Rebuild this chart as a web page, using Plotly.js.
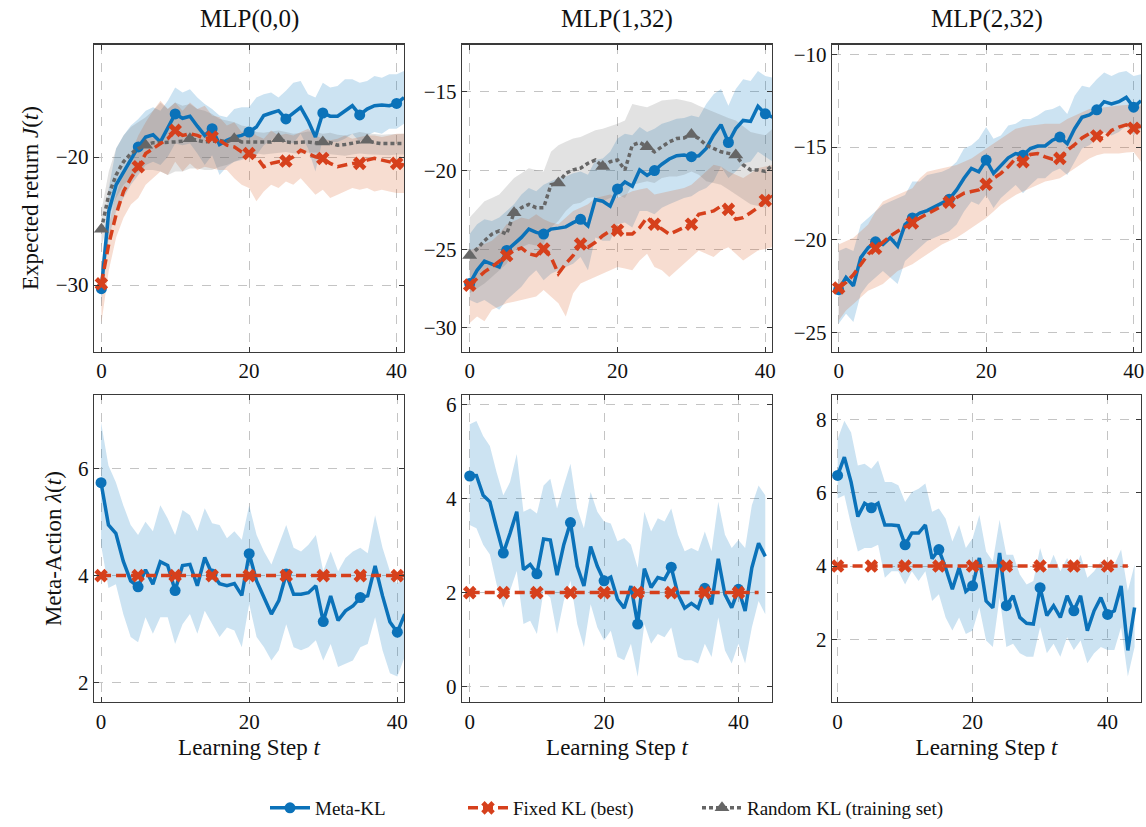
<!DOCTYPE html>
<html>
<head>
<meta charset="utf-8">
<script src="https://cdn.plot.ly/plotly-3.0.1.min.js"></script>
<style>html,body{margin:0;padding:0;background:#fff;}#chart{width:1146px;height:827px;}</style>
</head>
<body>
<div id="chart"></div>
<script>
// ---------- data ----------
const panelTitles = ["MLP(0,0)", "MLP(1,32)", "MLP(2,32)"];
const seriesNames = ["Meta-KL", "Fixed KL (best)", "Random KL (training set)"];
const stepsTop = [0,1,2,3,4,5,6,7,8,9,10,11,12,13,14,15,16,17,18,19,20,21,22,23,24,25,26,27,28,29,30,31,32,33,34,35,36,37,38,39,40,41];
const stepsBot = [0,1,2,3,4,5,6,7,8,9,10,11,12,13,14,15,16,17,18,19,20,21,22,23,24,25,26,27,28,29,30,31,32,33,34,35,36,37,38,39,40,41,42,43,44];

// MLP(0,0) expected return
const metaJ00   = [-30.28,-24.23,-22.16,-21.13,-20.10,-19.20,-18.43,-18.25,-18.81,-17.65,-16.62,-16.96,-16.80,-17.58,-18.30,-17.78,-19.02,-18.69,-18.43,-18.30,-18.04,-17.65,-16.75,-16.55,-16.37,-17.01,-16.55,-16.11,-17.14,-18.43,-16.55,-16.80,-16.80,-16.37,-15.98,-16.70,-16.24,-15.98,-15.93,-15.98,-15.80,-15.34];
const metaJ00Lo = [-31.44,-26.29,-24.23,-23.20,-22.16,-21.39,-20.62,-20.36,-20.62,-19.97,-18.94,-19.07,-18.94,-19.72,-20.62,-19.85,-21.39,-20.75,-20.36,-20.23,-19.97,-19.85,-19.07,-18.69,-18.17,-18.81,-18.94,-18.17,-19.33,-21.13,-18.56,-18.81,-18.81,-18.56,-18.17,-18.81,-18.30,-18.04,-18.17,-17.78,-17.78,-17.40];
const metaJ00Hi = [-28.87,-22.42,-19.33,-18.30,-17.53,-17.01,-16.37,-16.11,-16.37,-15.59,-14.56,-14.95,-14.69,-15.34,-15.85,-16.24,-16.75,-16.88,-16.24,-16.11,-16.11,-15.34,-15.08,-14.95,-15.34,-14.82,-14.18,-14.05,-15.08,-15.34,-14.18,-14.56,-14.43,-13.92,-13.92,-14.18,-14.05,-13.66,-13.79,-13.53,-13.53,-13.27];
const fixedJ00   = [-29.90,-26.80,-24.48,-22.68,-21.65,-20.75,-19.72,-19.33,-18.94,-18.56,-17.91,-18.30,-18.17,-18.30,-18.56,-18.43,-18.69,-19.07,-19.20,-19.59,-19.72,-19.97,-20.75,-20.49,-20.36,-20.31,-19.97,-19.46,-19.72,-19.97,-20.10,-20.49,-20.75,-20.62,-20.49,-20.49,-20.23,-20.10,-20.23,-20.36,-20.49,-20.62];
const fixedJ00Lo = [-32.99,-28.87,-26.29,-24.74,-23.71,-23.20,-22.16,-21.65,-21.13,-21.39,-20.36,-21.13,-20.49,-21.01,-20.75,-20.88,-21.01,-21.01,-21.65,-22.16,-22.42,-23.45,-22.68,-22.16,-22.42,-21.91,-22.16,-21.65,-22.29,-22.94,-22.55,-23.20,-22.94,-22.68,-22.42,-22.55,-22.42,-22.68,-22.55,-22.68,-22.81,-22.81];
const fixedJ00Hi = [-28.35,-25.26,-22.94,-21.13,-19.72,-18.30,-17.27,-16.37,-15.59,-16.24,-15.72,-16.37,-15.72,-16.24,-15.98,-16.75,-16.88,-17.53,-17.27,-18.04,-17.78,-18.30,-18.56,-17.91,-18.30,-18.17,-18.30,-18.04,-17.78,-18.30,-18.56,-18.69,-18.56,-18.30,-18.56,-18.43,-18.30,-18.30,-18.43,-18.30,-18.17,-18.17];
const randJ00   = [-25.64,-22.94,-21.39,-20.36,-19.72,-19.33,-19.07,-18.87,-18.87,-18.81,-18.81,-18.76,-18.56,-18.69,-18.81,-18.76,-18.69,-18.81,-18.56,-18.81,-18.81,-18.81,-18.87,-18.81,-18.56,-18.81,-18.87,-18.81,-18.81,-18.89,-18.81,-18.87,-19.07,-19.02,-18.94,-18.81,-18.69,-18.87,-18.94,-18.94,-18.94,-18.94];
const randJ00Lo = [-27.06,-24.74,-23.20,-22.16,-21.65,-21.13,-21.01,-21.01,-21.13,-21.39,-21.13,-21.13,-20.88,-20.88,-21.01,-21.01,-20.75,-20.62,-20.36,-20.10,-19.97,-19.72,-19.79,-19.72,-19.64,-19.59,-19.69,-19.74,-19.66,-19.64,-19.72,-19.79,-19.85,-19.90,-19.79,-19.72,-19.77,-19.79,-19.85,-19.85,-19.79,-19.79];
const randJ00Hi = [-24.23,-21.13,-19.33,-18.30,-17.65,-17.27,-16.88,-16.37,-15.72,-16.24,-15.72,-15.98,-15.85,-16.24,-16.37,-16.62,-17.01,-17.14,-17.27,-17.53,-17.65,-18.04,-18.09,-17.99,-17.91,-18.04,-18.17,-18.12,-17.99,-18.04,-18.17,-18.09,-18.25,-18.30,-18.17,-18.04,-18.14,-18.20,-18.25,-18.22,-18.17,-18.17];

// MLP(1,32) expected return
const metaJ132   = [-27.18,-26.34,-25.75,-25.92,-26.13,-25.08,-24.67,-24.25,-23.72,-23.93,-24.04,-23.72,-23.66,-23.58,-23.31,-23.10,-23.51,-21.84,-21.95,-22.26,-21.17,-20.73,-21.00,-19.96,-20.31,-20.00,-19.60,-19.27,-19.06,-19.02,-19.12,-19.06,-18.60,-17.76,-17.09,-18.22,-17.34,-16.82,-16.88,-15.92,-16.40,-16.61];
const metaJ132Lo = [-28.22,-28.43,-28.22,-28.54,-28.85,-28.22,-27.80,-27.38,-26.76,-26.34,-26.97,-26.55,-26.34,-26.13,-25.92,-25.50,-26.34,-24.25,-24.46,-24.46,-23.41,-23.31,-23.62,-22.57,-22.57,-22.78,-22.36,-22.15,-21.95,-21.74,-21.63,-21.32,-21.11,-20.69,-19.75,-20.48,-20.06,-19.54,-19.44,-18.81,-19.12,-19.44];
const metaJ132Hi = [-24.04,-23.41,-23.10,-23.20,-22.99,-22.57,-22.15,-21.53,-21.11,-21.32,-20.90,-20.69,-20.48,-20.38,-20.17,-20.06,-20.27,-19.33,-19.23,-18.81,-17.97,-17.66,-17.76,-17.24,-17.55,-17.34,-17.03,-16.88,-16.72,-16.67,-16.51,-16.61,-15.77,-15.15,-14.83,-15.88,-14.83,-14.21,-14.31,-13.68,-14.00,-14.10];
const fixedJ132   = [-27.28,-26.86,-26.44,-26.13,-25.75,-25.40,-25.08,-24.92,-25.29,-25.40,-24.98,-25.50,-26.55,-25.92,-25.40,-24.67,-24.87,-24.56,-24.14,-23.83,-23.79,-24.04,-24.04,-23.62,-22.99,-23.41,-23.72,-24.04,-23.83,-23.62,-23.41,-22.78,-22.68,-22.57,-22.26,-22.47,-23.10,-22.99,-22.68,-22.36,-21.90,-21.63];
const fixedJ132Lo = [-29.69,-29.27,-29.58,-28.85,-28.64,-28.43,-28.33,-28.22,-28.12,-28.01,-27.59,-28.01,-28.43,-29.27,-27.80,-27.18,-26.97,-26.76,-26.55,-26.34,-26.13,-26.23,-26.34,-25.71,-25.29,-26.13,-26.34,-26.76,-26.34,-25.92,-25.50,-25.08,-25.29,-25.50,-25.08,-24.87,-25.29,-25.71,-25.40,-25.08,-24.98,-24.87];
const fixedJ132Hi = [-25.08,-24.87,-24.67,-24.46,-24.04,-23.41,-23.20,-22.99,-23.10,-22.78,-23.10,-23.31,-23.41,-22.99,-22.57,-22.36,-22.15,-21.74,-21.63,-21.53,-21.74,-21.53,-21.32,-21.21,-21.11,-21.53,-21.42,-21.32,-21.21,-21.11,-20.90,-20.48,-20.06,-19.64,-19.75,-20.06,-20.27,-20.48,-20.17,-19.85,-19.75,-19.64];
const randJ132   = [-25.40,-24.98,-24.46,-24.04,-23.83,-24.04,-22.68,-22.36,-22.15,-22.36,-22.36,-20.90,-20.79,-20.17,-19.96,-19.85,-19.54,-19.33,-19.75,-19.44,-19.33,-19.96,-18.39,-18.22,-18.49,-18.81,-18.49,-18.18,-17.97,-17.93,-17.72,-17.97,-18.39,-18.60,-18.81,-18.91,-19.02,-19.64,-19.96,-19.96,-20.06,-19.64];
const randJ132Lo = [-27.80,-27.49,-27.18,-26.76,-26.34,-25.92,-25.08,-24.87,-24.67,-24.77,-24.67,-23.62,-23.20,-22.57,-22.15,-22.05,-21.74,-21.69,-21.95,-21.74,-21.53,-21.74,-20.90,-20.79,-20.69,-20.79,-20.48,-20.38,-20.38,-20.27,-20.06,-20.27,-20.69,-20.79,-20.90,-21.21,-21.53,-21.84,-22.15,-22.26,-22.36,-21.95];
const randJ132Hi = [-22.99,-22.47,-21.95,-21.74,-21.53,-21.00,-20.48,-20.17,-19.85,-19.96,-20.06,-18.81,-18.39,-18.18,-17.97,-17.87,-17.66,-17.45,-17.34,-17.18,-17.03,-16.82,-15.77,-15.88,-15.98,-15.77,-15.56,-15.50,-15.46,-15.56,-15.67,-15.88,-16.09,-16.30,-16.51,-16.67,-16.82,-17.18,-17.55,-17.66,-17.76,-17.34];

// MLP(2,32) expected return
const metaJ232   = [-22.69,-22.03,-22.48,-20.96,-20.43,-20.11,-20.25,-19.89,-20.34,-19.18,-18.82,-18.56,-18.43,-18.20,-18.02,-17.81,-17.31,-16.68,-16.15,-16.33,-15.70,-16.42,-15.97,-15.58,-15.35,-15.44,-15.08,-14.94,-14.94,-14.63,-14.46,-14.81,-14.01,-13.39,-13.26,-12.99,-12.55,-12.67,-12.55,-12.32,-12.85,-12.50];
const metaJ232Lo = [-24.53,-23.99,-24.44,-22.92,-22.39,-22.03,-21.68,-22.03,-22.39,-21.14,-20.78,-20.43,-20.07,-19.89,-19.71,-19.54,-19.18,-18.47,-17.93,-18.11,-17.58,-18.29,-17.75,-17.40,-17.04,-17.49,-17.04,-16.68,-16.68,-16.33,-16.15,-16.51,-15.79,-15.08,-14.90,-14.55,-14.19,-14.37,-14.19,-13.83,-14.37,-14.01];
const metaJ232Hi = [-20.61,-20.43,-20.61,-19.18,-18.82,-18.47,-18.11,-17.93,-17.75,-17.58,-16.86,-16.86,-16.51,-16.42,-16.33,-16.15,-15.79,-15.08,-14.90,-14.55,-13.92,-14.55,-14.37,-13.83,-13.74,-13.48,-13.48,-13.30,-13.03,-12.94,-12.76,-13.21,-12.23,-11.69,-11.78,-11.34,-10.98,-11.16,-10.98,-10.89,-11.16,-11.07];
const fixedJ232   = [-22.60,-22.30,-21.89,-21.32,-20.78,-20.46,-20.11,-19.80,-19.54,-19.32,-19.09,-18.82,-18.61,-18.38,-18.20,-17.97,-17.72,-17.49,-17.40,-17.31,-17.01,-16.68,-16.42,-16.06,-15.61,-15.79,-15.40,-15.35,-15.53,-15.65,-15.61,-15.17,-14.87,-14.51,-14.28,-14.40,-14.55,-14.10,-13.92,-13.80,-13.98,-13.87];
const fixedJ232Lo = [-24.35,-23.81,-23.46,-23.10,-22.75,-22.57,-22.39,-22.03,-21.68,-21.50,-21.32,-21.05,-20.78,-20.52,-20.25,-20.07,-19.89,-19.63,-19.36,-19.09,-18.82,-18.47,-18.11,-17.84,-17.58,-17.40,-17.22,-17.04,-16.86,-16.77,-16.68,-16.42,-16.15,-15.88,-15.61,-15.44,-15.35,-15.35,-15.35,-15.29,-15.26,-15.79];
const fixedJ232Hi = [-20.25,-20.07,-19.89,-19.54,-19.18,-18.47,-17.93,-17.75,-17.58,-17.40,-17.22,-16.68,-16.33,-16.24,-16.15,-16.06,-15.97,-15.79,-15.61,-15.35,-15.08,-14.81,-14.55,-14.28,-14.01,-13.92,-13.83,-13.80,-13.74,-13.74,-13.74,-13.48,-13.30,-13.12,-12.94,-12.91,-12.85,-12.80,-12.76,-12.73,-12.67,-12.76];

// Meta-action lambda
const metaL00   = [5.74,4.95,4.79,4.27,3.90,3.79,4.11,3.84,4.26,4.19,3.72,4.19,4.21,3.81,4.34,4.03,3.85,3.81,3.85,3.63,4.41,3.90,3.59,3.28,3.53,4.03,3.65,3.65,3.68,3.81,3.14,3.62,3.16,3.34,3.43,3.59,3.62,4.18,3.62,3.13,2.94,3.28];
const metaL00Lo = [4.58,3.77,3.84,3.28,2.85,2.75,3.22,2.91,3.22,3.22,2.72,3.09,3.28,2.91,3.34,3.09,2.85,3.03,2.97,2.66,3.47,2.85,2.66,2.41,2.60,3.09,2.66,2.60,2.66,2.79,2.41,2.72,2.29,2.35,2.41,2.66,2.72,3.22,2.60,2.17,2.11,2.48];
const metaL00Hi = [6.87,6.06,5.75,5.32,4.95,4.76,5.01,4.83,5.32,5.07,4.76,5.23,5.13,4.83,5.26,4.98,4.95,4.70,4.83,4.67,5.32,4.76,4.45,4.21,4.58,4.95,4.52,4.45,4.58,4.76,4.08,4.45,4.08,4.33,4.45,4.52,4.42,5.13,4.52,4.08,3.84,4.08];
const fixedL00  = [4,4,4,4,4,4,4,4,4,4,4,4,4,4,4,4,4,4,4,4,4,4,4,4,4,4,4,4,4,4,4,4,4,4,4,4,4,4,4,4,4,4];

const metaL132   = [4.48,4.49,4.07,3.93,3.37,2.84,3.26,3.72,2.49,2.60,2.40,3.14,3.12,2.37,3.02,3.49,2.56,2.14,2.98,2.56,2.25,2.33,1.86,1.67,2.14,1.33,2.51,2.11,2.32,2.28,2.54,1.96,1.67,1.77,1.67,2.09,1.75,2.72,1.96,1.68,2.07,1.61,2.53,3.05,2.77];
const metaL132Lo = [3.44,3.37,3.02,2.81,2.18,1.68,2.04,2.46,1.33,1.40,1.12,2.04,1.89,1.12,1.82,2.25,1.33,0.84,1.75,1.26,0.98,1.19,0.63,0.56,0.91,0.21,1.33,0.91,1.12,1.05,1.26,0.63,0.56,0.56,0.49,0.91,0.63,1.47,0.77,0.49,0.91,0.49,1.26,1.82,1.54];
const metaL132Hi = [5.58,5.65,5.33,5.12,4.56,4.07,4.35,4.95,3.72,3.79,3.68,4.28,4.42,3.79,4.28,4.74,3.79,3.37,4.14,3.72,3.51,3.47,3.09,3.16,3.02,2.53,3.72,3.30,3.58,3.51,3.79,3.23,2.88,2.95,2.88,3.30,2.88,3.93,3.23,2.95,3.12,2.95,3.86,4.28,4.07];
const fixedL132  = [2,2,2,2,2,2,2,2,2,2,2,2,2,2,2,2,2,2,2,2,2,2,2,2,2,2,2,2,2,2,2,2,2,2,2,2,2,2,2,2,2,2,2,2];

const metaL232   = [6.47,6.97,6.29,5.35,5.71,5.59,5.71,5.12,5.12,5.10,4.58,4.90,4.90,5.12,4.20,4.45,3.95,3.37,3.95,3.31,3.46,4.22,3.05,2.86,4.36,2.92,3.19,2.60,2.44,2.42,3.41,2.65,2.92,2.60,3.19,2.78,3.19,2.24,2.78,3.14,2.68,2.78,3.46,1.70,2.87];
const metaL232Lo = [5.84,5.93,5.12,4.40,4.49,4.49,4.58,3.68,3.86,3.86,3.50,3.86,3.59,3.86,3.05,3.23,2.60,2.24,2.60,2.15,2.24,2.87,1.97,1.79,3.14,1.79,1.88,1.62,1.53,1.53,2.33,1.62,1.88,1.53,2.06,1.71,1.97,1.35,1.62,1.79,1.71,1.71,2.33,0.99,1.79];
const metaL232Hi = [7.46,7.96,7.64,6.74,6.79,6.65,6.88,6.29,6.29,6.20,5.75,6.02,6.11,6.25,5.48,5.57,5.30,4.67,5.12,4.49,4.76,5.39,4.40,4.13,5.26,4.31,4.31,3.77,3.50,3.59,4.49,3.86,4.31,3.86,4.22,3.86,4.31,3.68,3.86,4.13,3.86,4.04,4.45,3.32,4.04];
const fixedL232  = [4,4,4,4,4,4,4,4,4,4,4,4,4,4,4,4,4,4,4,4,4,4,4,4,4,4,4,4,4,4,4,4,4,4,4,4,4,4,4,4,4,4,4,4];

// ---------- styles ----------
const FONT = "Liberation Serif, Times New Roman, Times, serif";
const STY = {
  meta:  {color:'#0b72b9', band:'rgba(0,114,189,0.2)', dash:'solid', symbol:'circle', size:11, every:5},
  fixed: {color:'#d6401c', band:'rgba(217,83,25,0.2)', dash:'10px,5px', symbol:'x', size:12, every:5},
  rand:  {color:'#666666', band:'rgba(110,110,110,0.2)', dash:'4px,3px', symbol:'triangle-up', size:13, every:6}
};

const traces = [];
function band(ax, xs, lo, hi, st){
  const n = lo.length;
  traces.push({x:xs.slice(0,n), y:lo, xaxis:'x'+ax, yaxis:'y'+ax, mode:'lines', line:{width:0, color:st.band}, showlegend:false, hoverinfo:'skip'});
  traces.push({x:xs.slice(0,n), y:hi, xaxis:'x'+ax, yaxis:'y'+ax, mode:'lines', line:{width:0, color:st.band}, fill:'tonexty', fillcolor:st.band, showlegend:false, hoverinfo:'skip'});
}
function line(ax, xs, y, st){
  const n = y.length;
  const xx = xs.slice(0,n);
  traces.push({x:xx, y:y, xaxis:'x'+ax, yaxis:'y'+ax, mode:'lines', line:{color:st.color, width:3.5, dash:st.dash}, showlegend:false});
  const mx = [], my = [];
  for (let i=0;i<n;i++){ if (xx[i] % st.every === 0){ mx.push(xx[i]); my.push(y[i]); } }
  traces.push({x:mx, y:my, xaxis:'x'+ax, yaxis:'y'+ax, mode:'markers', marker:{symbol:st.symbol, size:st.size, color:st.color, line:{width:0}}, showlegend:false});
}

// Panel 1
band('', stepsTop, metaJ00Lo, metaJ00Hi, STY.meta);
band('', stepsTop, fixedJ00Lo, fixedJ00Hi, STY.fixed);
band('', stepsTop, randJ00Lo, randJ00Hi, STY.rand);
line('', stepsTop, metaJ00, STY.meta);
line('', stepsTop, randJ00, STY.rand);
line('', stepsTop, fixedJ00, STY.fixed);
// Panel 2
band('2', stepsTop, metaJ132Lo, metaJ132Hi, STY.meta);
band('2', stepsTop, fixedJ132Lo, fixedJ132Hi, STY.fixed);
band('2', stepsTop, randJ132Lo, randJ132Hi, STY.rand);
line('2', stepsTop, metaJ132, STY.meta);
line('2', stepsTop, randJ132, STY.rand);
line('2', stepsTop, fixedJ132, STY.fixed);
// Panel 3
band('3', stepsTop, metaJ232Lo, metaJ232Hi, STY.meta);
band('3', stepsTop, fixedJ232Lo, fixedJ232Hi, STY.fixed);
line('3', stepsTop, metaJ232, STY.meta);
line('3', stepsTop, fixedJ232, STY.fixed);
// Panel 4
band('4', stepsBot, metaL00Lo, metaL00Hi, STY.meta);
line('4', stepsBot, metaL00, STY.meta);
line('4', stepsBot, fixedL00, STY.fixed);
// Panel 5
band('5', stepsBot, metaL132Lo, metaL132Hi, STY.meta);
line('5', stepsBot, metaL132, STY.meta);
line('5', stepsBot, fixedL132, STY.fixed);
// Panel 6
band('6', stepsBot, metaL232Lo, metaL232Hi, STY.meta);
line('6', stepsBot, metaL232, STY.meta);
line('6', stepsBot, fixedL232, STY.fixed);

// legend entries: one legend box per series, placed like the reference
const W = 1146, H = 827;
const legendIds = ['legend','legend2','legend3'];
const legendLeftPx = [265, 463, 697];
[['meta',0],['fixed',1],['rand',2]].forEach(([k,i])=>{
  const st = STY[k];
  traces.push({x:[null], y:[null], mode:'lines+markers', name:seriesNames[i], showlegend:true, legend:legendIds[i],
    line:{color:st.color, width:3.5, dash:st.dash}, marker:{symbol:st.symbol, size:st.size, color:st.color}});
});

// ---------- layout ----------
const colsPx = [[94,404],[462,772],[832,1141]];
const rowsPx = [[45,355],[399,709]];
const dx = p => [p[0]/W, p[1]/W];
const dy = p => [1 - p[1]/H, 1 - p[0]/H];

function axBase(){
  return {showline:true, mirror:'ticks', linecolor:'#3a3a3a', linewidth:1.2,
    ticks:'inside', ticklen:5, tickcolor:'#3a3a3a', tickwidth:1,
    showgrid:true, gridcolor:'#c4c4c4', griddash:'dash', gridwidth:1, zeroline:false,
    tickfont:{family:FONT, size:21, color:'#111'}, automargin:false, fixedrange:true};
}
const layout = {
  width:W, height:H, margin:{l:0,r:0,t:0,b:0}, paper_bgcolor:'#fff', plot_bgcolor:'#fff',
  font:{family:FONT, color:'#111'}, showlegend:true,
  annotations:[]
};
legendIds.forEach((id,i)=>{
  layout[id] = {orientation:'h', x:legendLeftPx[i]/W, xanchor:'left', y:1-816/H, yanchor:'middle',
    font:{family:FONT, size:19, color:'#111'}, bgcolor:'rgba(0,0,0,0)', borderwidth:0, itemwidth:40};
});
const xr = [[-1,41],[-1.04,40.9],[-0.9,41.0],[-0.95,40.9],[-1.15,45.0],[-0.83,44.95]];
const yr = [[-35.2,-11.2],[-31.5,-12.0],[-26.03,-9.47],[1.63,7.38],[-0.33,6.2],[0.29,8.66]];
const ydt = [10,5,5,2,2,2];
for (let k=0;k<6;k++){
  const r = k<3?0:1, c = k%3;
  const sfx = k===0?'':String(k+1);
  const xa = axBase(), ya = axBase();
  xa.domain = dx(colsPx[c]); xa.range = xr[k]; xa.tickmode='linear'; xa.tick0=0; xa.dtick=20;
  xa.anchor = 'y'+sfx;
  ya.domain = dy(rowsPx[r]); ya.range = yr[k]; ya.tickmode='linear'; ya.tick0=0; ya.dtick=ydt[k];
  ya.anchor = 'x'+sfx;
  if (r===1){ xa.title = {text:'Learning Step <i>t</i>', font:{family:FONT, size:23, color:'#111'}, standoff:6}; }
  if (c===0){ ya.title = {text: r===0 ? 'Expected return <i>J</i>(<i>t</i>)' : 'Meta-Action <i>λ</i>(<i>t</i>)', font:{family:FONT, size:23, color:'#111'}, standoff:10}; }
  layout['xaxis'+sfx] = xa; layout['yaxis'+sfx] = ya;
}
panelTitles.forEach((t,c)=>{
  layout.annotations.push({text:t, xref:'paper', yref:'paper', x:(colsPx[c][0]+colsPx[c][1])/2/W, y:1-19/H,
    xanchor:'center', yanchor:'middle', showarrow:false, font:{family:FONT, size:25, color:'#111'}});
});

Plotly.newPlot('chart', traces, layout, {displayModeBar:false, staticPlot:true});
</script>
</body>
</html>
